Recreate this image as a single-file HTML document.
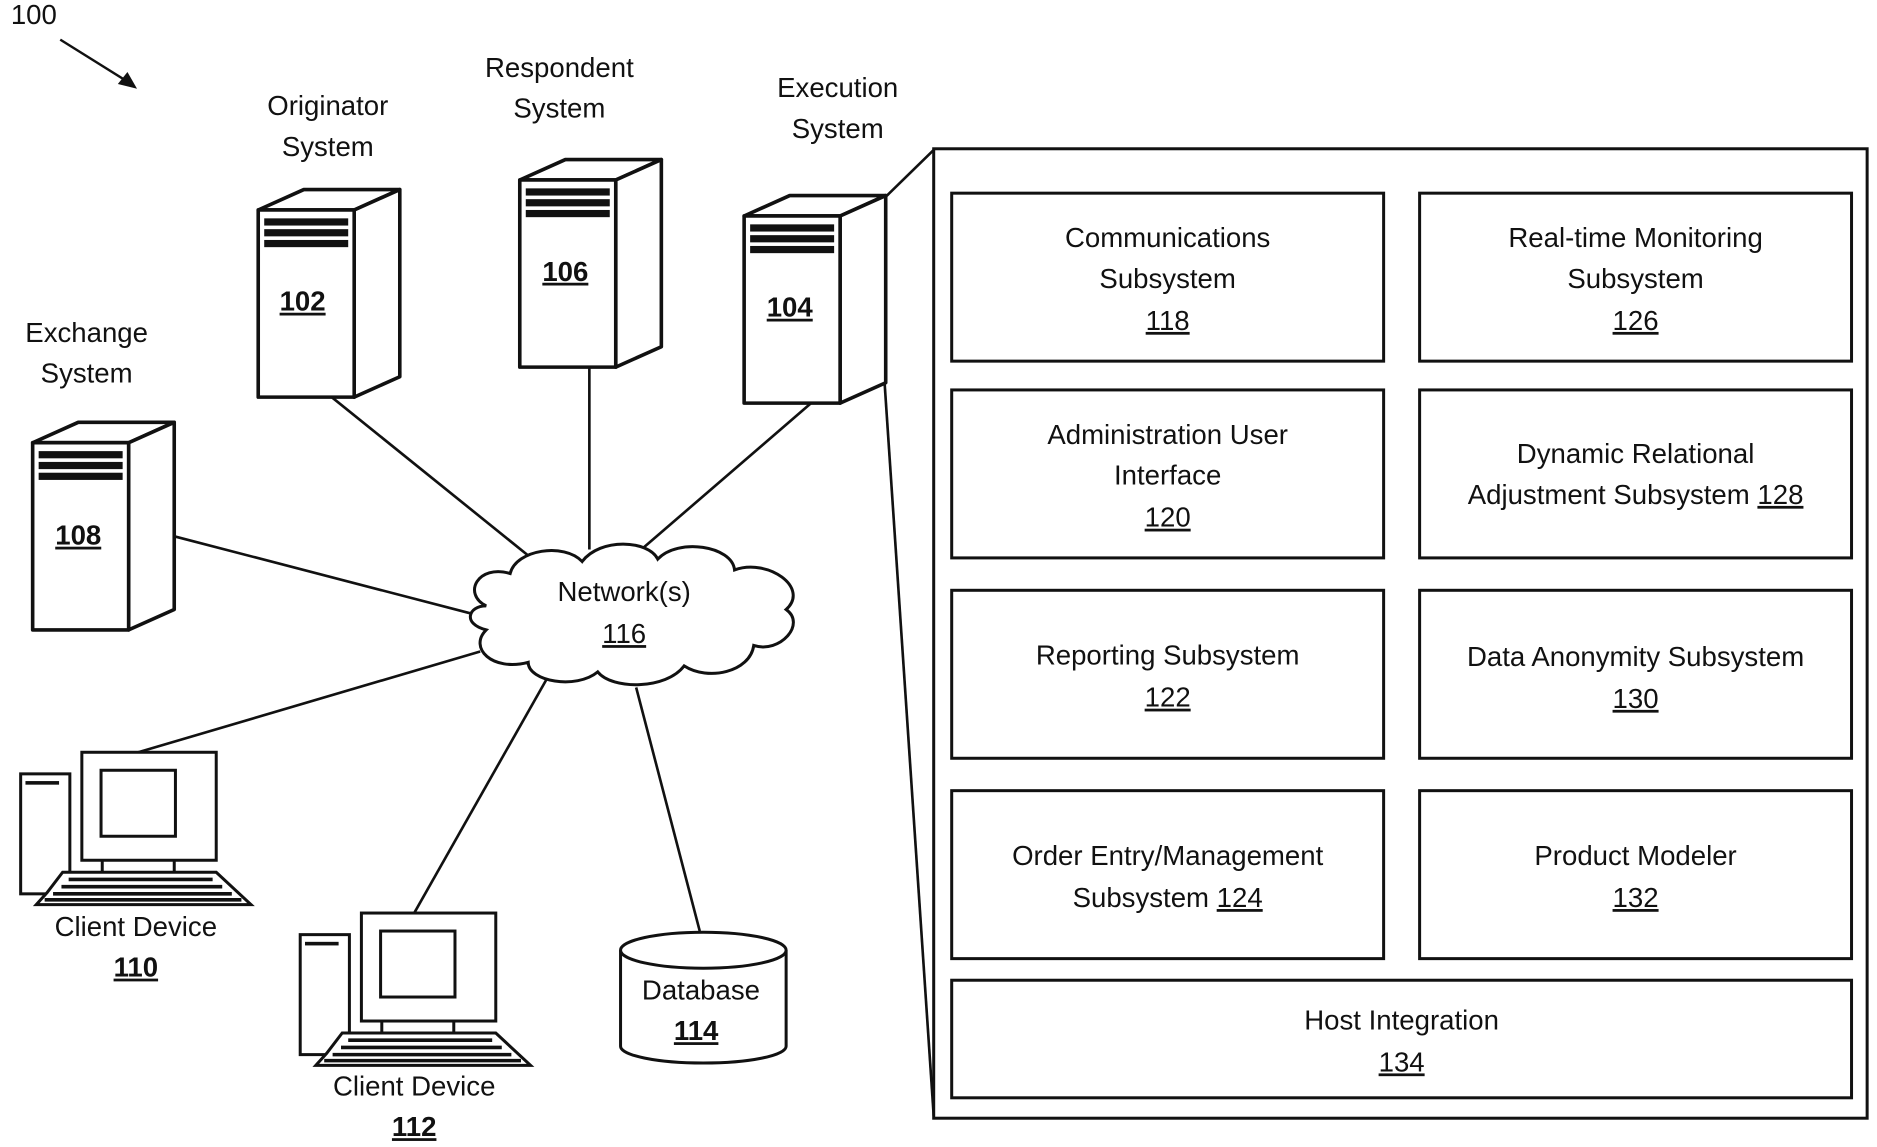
<!DOCTYPE html>
<html><head><meta charset="utf-8"><style>
html,body{margin:0;padding:0;background:#fff;}
svg{display:block;}
text{font-family:"Liberation Sans",sans-serif;font-size:23px;fill:#111;text-anchor:middle;}
.b{font-weight:bold;}
</style></head><body>
<svg width="1877" height="1147" viewBox="0 0 1564 956" xmlns="http://www.w3.org/2000/svg">
<defs>
<g id="srv" stroke="#111" stroke-width="3" fill="#fff" stroke-linejoin="round">
  <polygon points="0,17 38,0 118,0 80,17"/>
  <polygon points="80,17 118,0 118,156 80,173"/>
  <rect x="0" y="17" width="80" height="156"/>
  <rect x="5" y="24" width="70" height="6" fill="#111" stroke="none"/>
  <rect x="5" y="33" width="70" height="6" fill="#111" stroke="none"/>
  <rect x="5" y="42" width="70" height="6" fill="#111" stroke="none"/>
</g>
<g id="pc" stroke="#111" stroke-width="2.5" fill="#fff">
  <rect x="0" y="18" width="41" height="100"/>
  <rect x="4" y="24" width="28" height="3" fill="#111" stroke="none"/>
  <rect x="51" y="0" width="112" height="90"/>
  <rect x="67" y="15" width="62" height="55"/>
  <line x1="68" y1="90" x2="68" y2="100"/><line x1="128" y1="90" x2="128" y2="100"/>
  <polygon points="35,100 163,100 192,127 13,127 22,117" />
  <line x1="40" y1="106" x2="160" y2="106" stroke-width="3"/>
  <line x1="34" y1="112" x2="168" y2="112" stroke-width="3"/>
  <line x1="27" y1="118" x2="176" y2="118" stroke-width="3"/>
  <line x1="20" y1="123" x2="184" y2="123" stroke-width="3"/>
</g>
</defs>

<text x="28" y="20">100</text>
<line x1="50" y1="33" x2="106" y2="68" stroke="#111" stroke-width="2"/>
<polygon points="114,74 98,70 106,60" fill="#111"/>

<g stroke="#111" stroke-width="2.2">
<line x1="145" y1="447" x2="395" y2="512"/>
<line x1="275" y1="330" x2="440" y2="463"/>
<line x1="491" y1="305" x2="491" y2="458"/>
<line x1="677" y1="335" x2="532" y2="460"/>
<line x1="115" y1="627" x2="400" y2="543"/>
<line x1="345" y1="761" x2="456" y2="565"/>
<line x1="583" y1="776" x2="530" y2="573"/>
<line x1="737" y1="165" x2="778" y2="125"/>
<line x1="737" y1="318" x2="778" y2="930"/>
</g>

<use href="#srv" x="27" y="352"/>
<use href="#srv" x="215" y="158"/>
<use href="#srv" x="433" y="133"/>
<use href="#srv" x="620" y="163"/>
<text x="65" y="454" class="b" style="text-decoration:underline">108</text>
<text x="252" y="259" class="b" style="text-decoration:underline">102</text>
<text x="471" y="234" class="b" style="text-decoration:underline">106</text>
<text x="658" y="264" class="b" style="text-decoration:underline">104</text>

<text x="72" y="285">Exchange</text><text x="72" y="319">System</text>
<text x="273" y="96">Originator</text><text x="273" y="130">System</text>
<text x="466" y="64">Respondent</text><text x="466" y="98">System</text>
<text x="698" y="81">Execution</text><text x="698" y="115">System</text>

<path d="M405,505 C385,495 398,470 425,478 C430,458 470,452 485,468 C500,448 540,450 548,466 C565,448 610,455 612,475 C640,465 675,490 655,508 C672,520 650,545 628,538 C625,560 590,568 570,555 C555,575 510,575 498,560 C480,575 440,568 440,552 C410,560 390,540 405,525 C385,520 390,505 405,505 Z" fill="#fff" stroke="#111" stroke-width="2.5"/>
<text x="520" y="501">Network(s)</text>
<text x="520" y="536" style="text-decoration:underline">116</text>

<use href="#pc" x="17" y="627"/>
<use href="#pc" x="250" y="761"/>
<text x="113" y="780">Client Device</text>
<text x="113" y="814" class="b" style="text-decoration:underline">110</text>
<text x="345" y="913">Client Device</text>
<text x="345" y="947" class="b" style="text-decoration:underline">112</text>

<g stroke="#111" stroke-width="2.5" fill="#fff">
<path d="M517,792 L517,872 A69,14 0 0 0 655,872 L655,792"/>
<ellipse cx="586" cy="792" rx="69" ry="15"/>
</g>
<text x="584" y="833">Database</text>
<text x="580" y="867" class="b" style="text-decoration:underline">114</text>

<g stroke="#111" stroke-width="2.5" fill="#fff">
<rect x="778" y="124" width="778" height="808"/>
<rect x="793" y="161" width="360" height="140"/>
<rect x="1183" y="161" width="360" height="140"/>
<rect x="793" y="325" width="360" height="140"/>
<rect x="1183" y="325" width="360" height="140"/>
<rect x="793" y="492" width="360" height="140"/>
<rect x="1183" y="492" width="360" height="140"/>
<rect x="793" y="659" width="360" height="140"/>
<rect x="1183" y="659" width="360" height="140"/>
<rect x="793" y="817" width="750" height="98"/>
</g>
<text x="973" y="206">Communications</text><text x="973" y="240">Subsystem</text><text x="973" y="275" style="text-decoration:underline">118</text>
<text x="1363" y="206">Real-time Monitoring</text><text x="1363" y="240">Subsystem</text><text x="1363" y="275" style="text-decoration:underline">126</text>
<text x="973" y="370">Administration User</text><text x="973" y="404">Interface</text><text x="973" y="439" style="text-decoration:underline">120</text>
<text x="1363" y="386">Dynamic Relational</text><text x="1363" y="420">Adjustment Subsystem <tspan style="text-decoration:underline">128</tspan></text>
<text x="973" y="554">Reporting Subsystem</text><text x="973" y="589" style="text-decoration:underline">122</text>
<text x="1363" y="555">Data Anonymity Subsystem</text><text x="1363" y="590" style="text-decoration:underline">130</text>
<text x="973" y="721">Order Entry/Management</text><text x="973" y="756">Subsystem <tspan style="text-decoration:underline">124</tspan></text>
<text x="1363" y="721">Product Modeler</text><text x="1363" y="756" style="text-decoration:underline">132</text>
<text x="1168" y="858">Host Integration</text><text x="1168" y="893" style="text-decoration:underline">134</text>
</svg>
</body></html>
